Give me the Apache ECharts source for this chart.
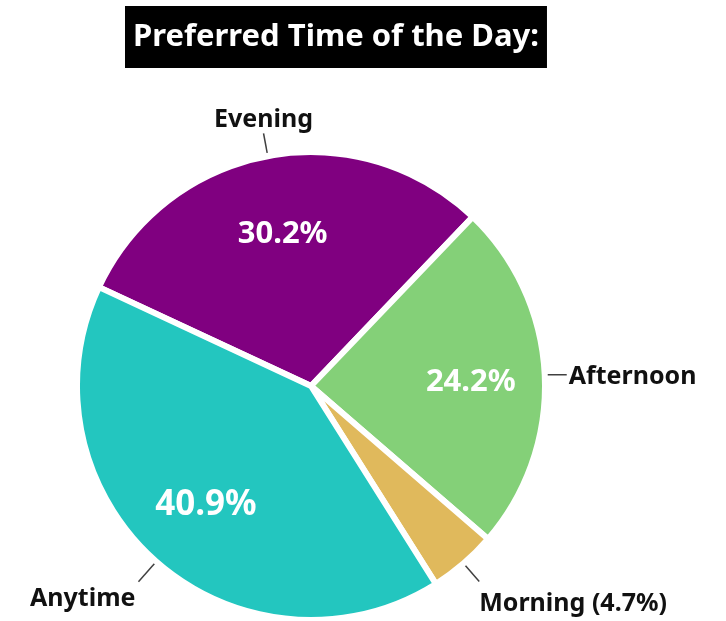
<!DOCTYPE html>
<html>
<head>
<meta charset="utf-8">
<script src="https://cdn.jsdelivr.net/npm/echarts@6/dist/echarts.min.js"></script>
<style>
  html, body { margin: 0; padding: 0; background: #fff; }
  #chart { width: 726px; height: 621px; }
</style>
</head>
<body>
<div id="chart"></div>
<script>
// data
const categories = ['Evening', 'Afternoon', 'Morning', 'Anytime'];
const shares = [30.2, 24.2, 4.7, 40.9];
const outerLabels = ['Evening', 'Afternoon', 'Morning (4.7%)', 'Anytime'];
const sliceColors = ['#800080', '#84D078', '#E0B95C', '#23C6BF'];

const FONT = '"Noto Sans", "DejaVu Sans", sans-serif';
const CENTER = [311, 386];
const START = 155;

// leader line lengths per slice
const lineLen = [[23, 0], [4, 18], [24, 0], [27, 0]];
// where the outside label sits relative to the end of its line
const labelPlace = [
    { align: 'center', verticalAlign: 'bottom', dx: 5, dy: -1 },
    { align: 'left', verticalAlign: 'middle', dx: -3, dy: 2 },
    { align: 'left', verticalAlign: 'top', dx: -5, dy: 10 },
    { align: 'right', verticalAlign: 'top', dx: 2, dy: 5 },
];

const chart = echarts.init(document.getElementById('chart'));

chart.setOption({
    backgroundColor: '#fff',
    animation: false,
    title: {
        text: 'Preferred Time of the Day:',
        left: 125,
        top: 6,
        padding: [13, 8],
        backgroundColor: '#000',
        textStyle: {
            color: '#fff',
            fontFamily: FONT,
            fontWeight: 'bold',
            fontSize: 31,
            lineHeight: 36,
        },
    },
    series: [
        {
            // the pie itself, with the outside labels
            type: 'pie',
            center: CENTER,
            radius: 234,
            startAngle: START,
            clockwise: true,
            silent: true,
            z: 2,
            avoidLabelOverlap: false,
            itemStyle: { borderColor: '#fff', borderWidth: 6 },
            label: {
                show: true,
                position: 'outside',
                color: '#111',
                fontFamily: FONT,
                fontWeight: 'bold',
                fontSize: 25,
                distanceToLabelLine: 5,
                formatter: (p) => outerLabels[p.dataIndex],
            },
            labelLine: {
                show: true,
                lineStyle: { color: '#404040', width: 1.5 },
            },
            labelLayout: (p) => Object.assign({ labelLinePoints: p.labelLinePoints }, labelPlace[p.dataIndex]),
            data: categories.map((name, i) => ({
                name: name,
                value: shares[i],
                itemStyle: { color: sliceColors[i] },
                labelLine: { length: lineLen[i][0], length2: lineLen[i][1] },
            })),
        },
        {
            // invisible copy that only carries the percentages inside the slices
            type: 'pie',
            center: CENTER,
            radius: [0, 312],
            startAngle: START,
            clockwise: true,
            silent: true,
            z: 3,
            itemStyle: { color: 'transparent' },
            label: {
                show: true,
                position: 'inside',
                color: '#fff',
                fontFamily: FONT,
                fontWeight: 'bold',
                fontSize: 31,
                formatter: (p) => (p.name === 'Morning' ? '' : p.value.toFixed(1) + '%'),
            },
            labelLine: { show: false },
            data: categories.map((name, i) => ({
                name: name,
                value: shares[i],
                label: name === 'Anytime' ? { fontSize: 35 } : { offset: [1, 4] },
            })),
        },
    ],
});
</script>
</body>
</html>
